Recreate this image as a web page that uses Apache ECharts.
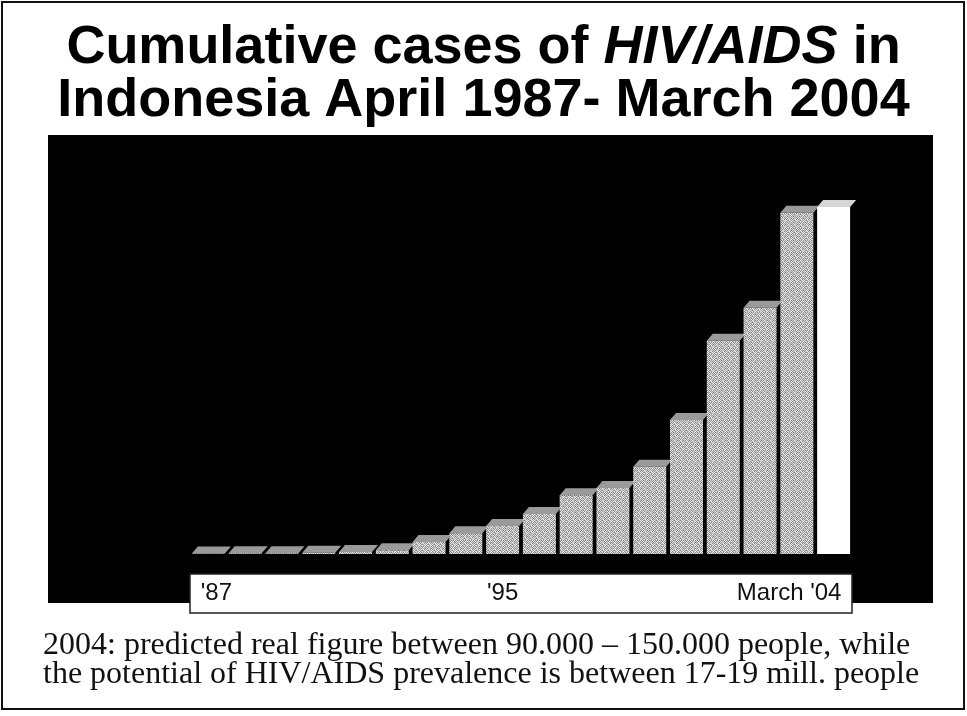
<!DOCTYPE html>
<html>
<head>
<meta charset="utf-8">
<title>Cumulative cases of HIV/AIDS in Indonesia</title>
<script src="https://cdn.jsdelivr.net/npm/echarts@6/dist/echarts.min.js"></script>
<style>
    html, body { margin: 0; padding: 0; background: #fff; }
    #chart { width: 967px; height: 716px; }
</style>
</head>
<body>
<div id="chart"></div>
<script>
// cumulative cases, one bar per year, the last (white) bar is March 2004
const years = ['1987', '1988', '1989', '1990', '1991', '1992', '1993', '1994', '1995',
    '1996', '1997', '1998', '1999', '2000', '2001', '2002', '2003', 'March 2004']
const cases = [5, 8, 10, 14, 24, 45, 145, 250, 335, 480, 705, 790, 1045, 1605, 2555, 2950, 4090, 4159]
const tickLabels = ["'87", '', '', '', '', '', '', '', "'95", '', '', '', '', '', '', '', '', "March '04"]

const lastIdx = cases.length - 1

// small fixed halftone tile, looks like the scanned grey bars
function halftone() {
    const shades = [
        [226, 118, 204, 158, 236, 132],
        [164, 238, 140, 222, 150, 214],
        [212, 136, 240, 172, 206, 120],
        [146, 218, 180, 244, 128, 230],
        [234, 160, 124, 198, 224, 170],
        [138, 206, 228, 152, 186, 242]
    ]
    const c = document.createElement('canvas')
    c.width = 6
    c.height = 6
    const ctx = c.getContext('2d')
    shades.forEach((row, y) => row.forEach((v, x) => {
        ctx.fillStyle = 'rgb(' + v + ',' + v + ',' + v + ')'
        ctx.fillRect(x, y, 1, 1)
    }))
    return c
}

const chart = echarts.init(document.getElementById('chart'))
const barFill = { image: halftone(), repeat: 'repeat' }

const titleFont = {
    fontFamily: 'Liberation Sans',
    fontSize: 54,
    fontWeight: 'bold',
    color: '#000'
}

chart.setOption({
    animation: false,
    backgroundColor: '#fff',
    title: [{
        text: '{n|Cumulative cases of }{i|HIV/AIDS}{n| in}',
        left: 'center',
        top: 21,
        padding: 0,
        textStyle: {
            rich: {
                n: titleFont,
                i: Object.assign({}, titleFont, { fontStyle: 'italic' })
            }
        }
    }, {
        text: 'Indonesia April 1987- March 2004',
        left: 'center',
        top: 74,
        padding: 0,
        textStyle: titleFont
    }, {
        text: '2004: predicted real figure between 90.000 \u2013 150.000 people, while\n' +
            'the potential of HIV/AIDS prevalence is between 17-19 mill. people',
        left: 43,
        top: 631,
        padding: 0,
        textStyle: {
            fontFamily: 'Liberation Serif',
            fontSize: 32,
            lineHeight: 29,
            fontWeight: 'normal',
            color: '#111'
        }
    }],
    graphic: [{
        type: 'rect',
        z: -20,
        shape: { x: 2, y: 2, width: 962, height: 707 },
        style: { fill: '#fff', stroke: '#111', lineWidth: 2 }
    }, {
        type: 'rect',
        z: -10,
        shape: { x: 48, y: 135, width: 885, height: 468 },
        style: { fill: '#000' }
    }, {
        type: 'rect',
        z: -5,
        shape: { x: 190, y: 574, width: 662, height: 39 },
        style: { fill: '#fff', stroke: '#222', lineWidth: 1.5 }
    }],
    grid: {
        left: 190,
        right: 115,
        top: 178.5,
        bottom: 162
    },
    xAxis: {
        type: 'category',
        data: years,
        z: 5,
        axisLine: { show: false },
        axisTick: { show: false },
        splitLine: { show: false },
        axisLabel: {
            interval: 0,
            margin: 27,
            fontFamily: 'Liberation Sans',
            fontSize: 24,
            color: '#111',
            formatter: (val, idx) => {
                const t = tickLabels[idx]
                if (!t) return ''
                if (idx === 0) return '{first|' + t + '}'
                if (idx === lastIdx) return '{last|' + t + '}'
                return t
            },
            rich: {
                first: { fontFamily: 'Liberation Sans', fontSize: 24, color: '#111', padding: [0, 0, 0, 16] },
                last: { fontFamily: 'Liberation Sans', fontSize: 24, color: '#111', padding: [0, 89, 0, 0] }
            }
        }
    },
    yAxis: {
        type: 'value',
        min: 0,
        max: 4500,
        show: false
    },
    series: [{
        type: 'bar',
        barWidth: 33,
        z: 3,
        itemStyle: { color: barFill },
        data: cases.map((v, i) => i === lastIdx ? { value: v, itemStyle: { color: '#fff' } } : v)
    }, {
        // slanted top faces of the 3d bars
        type: 'pictorialBar',
        z: 2,
        symbol: 'path://M0,7 L6,0 L39,0 L33,7 Z',
        symbolSize: [39, 7],
        symbolPosition: 'end',
        symbolOffset: [3, '-100%'],
        itemStyle: { color: '#9a9a9a' },
        data: cases.map((v, i) => i === lastIdx ? { value: v, itemStyle: { color: '#d6d6d6' } } : v)
    }]
})
</script>
</body>
</html>
